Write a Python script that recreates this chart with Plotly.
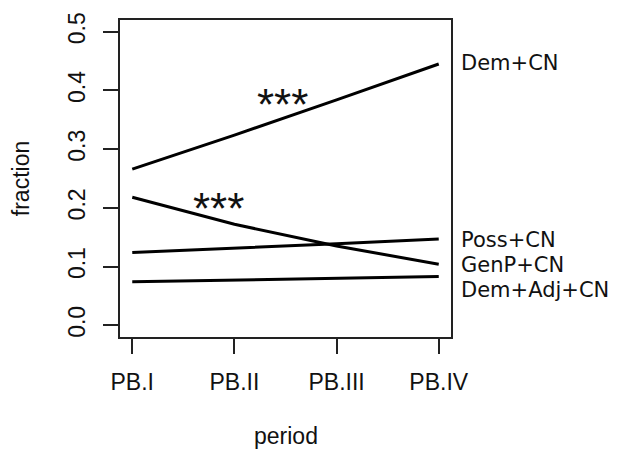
import plotly.graph_objects as go

periods = ["PB.I", "PB.II", "PB.III", "PB.IV"]
period_pos = [1, 2, 3, 4]
dem_cn = [0.266, 0.324, 0.384, 0.445]
genp_cn = [0.218, 0.172, 0.135, 0.104]
poss_cn = [0.124, 0.131, 0.139, 0.147]
dem_adj_cn = [0.074, 0.077, 0.080, 0.083]
y_ticks = [0.0, 0.1, 0.2, 0.3, 0.4, 0.5]
y_ticktext = ["0.0", "0.1", "0.2", "0.3", "0.4", "0.5"]

series = [("Dem+CN", dem_cn, 0.447), ("Poss+CN", poss_cn, 0.146),
          ("GenP+CN", genp_cn, 0.103), ("Dem+Adj+CN", dem_adj_cn, 0.0605)]

AX_FONT = dict(family="Liberation Sans, Arial, sans-serif", size=23, color="#111")
LAB_FONT = dict(family="DejaVu Sans, sans-serif", size=21, color="#111")
STAR_FONT = dict(family="Liberation Sans, Arial, sans-serif", size=44, color="#111")

fig = go.Figure()
for name, vals, _ in series:
    fig.add_trace(go.Scatter(x=period_pos, y=vals, mode="lines", name=name,
                             line=dict(color="black", width=3), showlegend=False))

ann = []
for name, vals, ylab in series:
    ann.append(dict(x=1.024, y=ylab, xref="paper", yref="y", text=name, showarrow=False,
                    xanchor="left", yanchor="middle", font=LAB_FONT))
ann.append(dict(x=2.47, y=0.388, xref="x", yref="y", text="***", showarrow=False,
                xanchor="center", yanchor="middle", yshift=-7, font=STAR_FONT))
ann.append(dict(x=1.84, y=0.210, xref="x", yref="y", text="***", showarrow=False,
                xanchor="center", yanchor="middle", yshift=-7, font=STAR_FONT))
ann.append(dict(x=-0.3, y=0.5, xref="paper", yref="paper", text="fraction", textangle=-90,
                showarrow=False, xanchor="center", yanchor="middle", font=AX_FONT))
ann.append(dict(x=0.5, y=-0.313, xref="paper", yref="paper", text="period",
                showarrow=False, xanchor="center", yanchor="middle", font=AX_FONT))

# the page body has an 8px margin, so the figure is sized/margined to compensate
fig.update_layout(
    width=610, height=441,
    margin=dict(l=112, r=167, t=12, b=112, autoexpand=False),
    paper_bgcolor="white", plot_bgcolor="white",
    annotations=ann,
    xaxis=dict(range=[0.88, 4.12], tickvals=period_pos, ticktext=periods,
               showgrid=False, zeroline=False, showline=True, mirror=True,
               linecolor="#222", linewidth=2, ticks="outside", ticklen=15,
               tickwidth=2, tickcolor="#222", tickfont=AX_FONT, ticklabelstandoff=8),
    yaxis=dict(range=[-0.02, 0.52], tickvals=y_ticks, ticktext=y_ticktext,
               tickangle=-90,
               showgrid=False, zeroline=False, showline=True, mirror=True,
               linecolor="#222", linewidth=2, ticks="outside", ticklen=15,
               tickwidth=2, tickcolor="#222", tickfont=AX_FONT, ticklabelstandoff=9),
)

fig.write_html("out.html")
